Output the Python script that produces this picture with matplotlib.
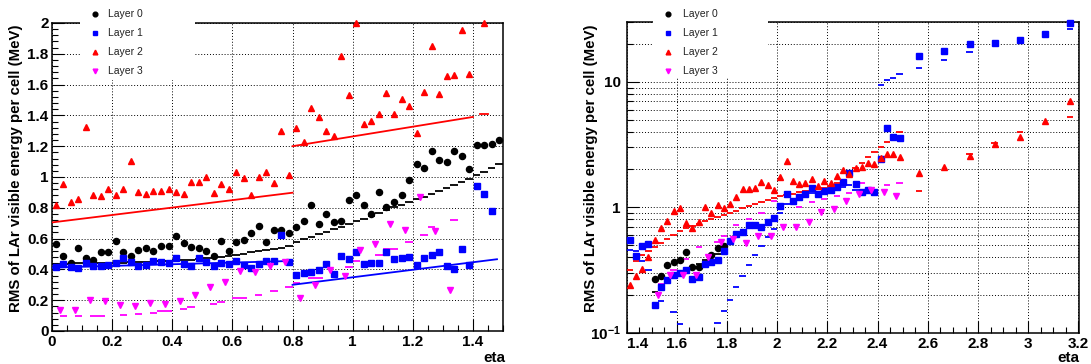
import numpy as np
import matplotlib.pyplot as plt
from matplotlib.ticker import FixedLocator, FixedFormatter, MultipleLocator, LogLocator, NullFormatter

plt.rcParams["font.family"] = ["Liberation Sans", "DejaVu Sans"]
plt.rcParams["mathtext.fontset"] = "custom"
plt.rcParams["mathtext.bf"] = "Liberation Sans:bold"
plt.rcParams["mathtext.rm"] = "Liberation Sans"

nan = np.nan

# ---------------- barrel (left), bins of 0.025 from 0 to 1.5 ----------------
barrel_edges = np.arange(0, 1.5001, 0.025)
barrel_centers = (barrel_edges[:-1] + barrel_edges[1:]) / 2

layer0_barrel = [0.563, 0.487, 0.444, 0.541, 0.472, 0.464, 0.515, 0.511, 0.587, 0.515,
                 0.485, 0.526, 0.537, 0.520, 0.550, 0.550, 0.619, 0.570, 0.544, 0.541,
                 0.522, 0.487, 0.585, 0.522, 0.576, 0.591, 0.634, 0.680, 0.580, 0.656,
                 0.658, 0.634, 0.677, 0.716, 0.818, 0.692, 0.757, 0.706, 0.714, 0.850,
                 0.885, 0.818, 0.759, 0.904, 0.808, 0.837, 0.882, 0.978, 1.082, 1.056,
                 1.168, 1.108, 1.097, 1.168, 1.137, 1.051, 1.205, 1.205, 1.215, 1.239]
layer0_barrel_exp = [0.436, 0.437, 0.438, 0.439, 0.440, 0.440, 0.441, 0.442, 0.443, 0.444,
                     0.445, 0.446, 0.448, 0.450, 0.452, 0.455, 0.458, 0.461, 0.464, 0.468,
                     0.472, 0.476, 0.481, 0.489, 0.495, 0.502, 0.510, 0.518, 0.527, 0.535,
                     0.542, 0.550, 0.580, 0.595, 0.610, 0.627, 0.643, 0.660, 0.675, 0.694,
                     0.712, 0.730, 0.748, 0.766, 0.785, 0.802, 0.820, 0.837, 0.855, 0.872,
                     0.890, 0.910, 0.930, 0.950, 0.970, 0.990, 1.010, 1.034, 1.060, 1.084]
layer1_barrel = [0.418, 0.436, 0.418, 0.412, 0.444, 0.423, 0.423, 0.429, 0.440, 0.476,
                 0.446, 0.423, 0.429, 0.457, 0.446, 0.440, 0.474, 0.436, 0.425, 0.472,
                 0.448, 0.423, 0.444, 0.433, 0.457, 0.427, 0.410, 0.433, 0.455, 0.457,
                 0.624, 0.448, 0.364, 0.375, 0.381, 0.397, 0.436, 0.371, 0.485, 0.468,
                 0.511, 0.436, 0.444, 0.440, 0.511, 0.466, 0.475, 0.481, 0.427, 0.477,
                 0.496, 0.511, 0.425, 0.402, 0.535, 0.427, 0.944, 0.890, 0.776, nan]
layer2_barrel = [0.818, 0.956, 0.839, 0.860, 1.323, 0.883, 0.879, 0.919, 0.885, 0.919,
                 1.101, 0.904, 0.887, 0.908, 0.910, 0.919, 0.900, 0.889, 0.969, 0.969,
                 1.001, 0.894, 0.956, 0.919, 1.034, 0.993, 0.883, 0.997, 1.034, 0.958,
                 1.297, 1.012, 1.315, 1.228, 1.449, 1.390, 1.297, 1.265, 1.786, 1.531,
                 2.000, 1.343, 1.364, 1.408, 1.546, 1.412, 1.505, 1.464, 1.283, 1.552,
                 1.853, 1.537, 1.654, 1.660, 1.952, 1.671, nan, 2.000, nan, nan]
layer3_barrel_eta = np.arange(0.025, 1.5, 0.05)
layer3_barrel = [0.137, 0.135, 0.200, 0.198, 0.170, 0.161, 0.180, 0.176, 0.198, 0.235,
                 0.284, 0.317, 0.388, 0.386, 0.423, 0.450, 0.213, 0.300, 0.397, 0.358,
                 0.525, 0.565, 0.697, 0.658, 0.872, 0.648, 0.267, nan, nan, nan]
layer3_barrel_exp = [nan, 0.100, nan, 0.098, nan, 0.100, 0.100, nan, nan, 0.107,
                     nan, 0.111, nan, 0.119, 0.128, 0.128, nan, 0.141, 0.157, nan,
                     nan, 0.174, 0.189, nan, 0.213, 0.213, nan, 0.237, nan, 0.261,
                     nan, 0.288, 0.310, nan, 0.347, 0.347, nan, 0.380, nan, 0.418,
                     0.457, nan, nan, 0.494, 0.535, 0.535, nan, 0.580, nan, 0.625,
                     0.673, nan, nan, 0.721, nan, nan, nan, nan, nan, nan]
# straight expected curves for layers 1 and 2 (two segments each)
layer1_line_eta = [[0.0, 0.8], [0.8, 1.48]]
layer1_line_val = [[0.412, 0.455], [0.300, 0.466]]
layer2_line_eta = [[0.0, 0.8], [0.8, 1.4], [1.425, 1.45]]
layer2_line_val = [[0.705, 0.898], [1.200, 1.390], [1.408, 1.408]]

# ---------------- endcap (right), bins of 0.025 from 1.4 to 2.5 ----------------
endcap_edges = np.arange(1.4, 2.5001, 0.025)
endcap_centers = (endcap_edges[:-1] + endcap_edges[1:]) / 2

layer0_endcap = [nan, nan, nan, nan, 0.268, 0.284, 0.345, 0.367, 0.376, 0.435,
                 0.335, 0.335, nan, 0.415, 0.470, 0.490] + [nan] * 28
layer0_endcap_exp = [nan, nan, nan, nan, 0.210, 0.226, 0.250, 0.270, 0.290, 0.310,
                     0.330, 0.353, 0.380, 0.400, 0.420, 0.443] + [nan] * 28
layer1_endcap = [0.549, 0.409, 0.492, 0.511, 0.167, 0.229, 0.260, 0.285, 0.298, 0.316,
                 0.268, 0.277, 0.351, 0.365, 0.380, 0.451, 0.539, 0.608, 0.630, 0.723,
                 0.723, 0.697, 0.759, 0.817, 1.030, 1.270, 1.120, 1.200, 1.280, 1.420,
                 1.280, 1.350, 1.370, 1.460, 1.580, 1.870, 1.530, 1.310, 1.370, 1.320,
                 2.430, 4.260, 3.610, 3.550]
layer1_endcap_exp = [0.454, 0.449, 0.373, 0.313, nan, 0.180, nan, 0.146, 0.117, nan,
                     nan, nan, nan, nan, 0.120, 0.148, 0.183, 0.232, 0.284, 0.347,
                     0.414, 0.494, 0.580, 0.670, 0.900, 1.060, 1.120, 1.180, 1.250, 1.300,
                     1.330, 1.360, 1.380, 1.420, 1.450, 1.500, 1.380, 1.300, 1.320, 1.350,
                     9.440, 10.30, 10.80, 11.50]
layer2_endcap = [0.240, 0.284, 0.321, 0.400, 0.549, 0.680, 0.782, 0.935, 0.980, 0.745,
                 0.680, 0.760, 1.010, 0.895, 1.040, 0.980, 1.060, 1.200, 1.390, 1.390,
                 1.430, 1.580, 1.490, 1.370, 1.730, 2.340, 1.630, 1.530, 1.550, 1.680,
                 1.480, 1.630, 1.560, 1.780, 1.980, 1.830, 2.050, 2.100, 2.270, 2.210,
                 2.480, 2.640, 2.650, 2.510]
layer2_endcap_exp = [0.316, 0.369, 0.412, 0.451, 0.480, 0.520, 0.556, 0.598, 0.640, 0.680,
                     0.710, 0.740, 0.770, 0.800, 0.830, 0.860, 0.900, 0.940, 0.980, 1.020,
                     1.060, 1.100, 1.140, 1.180, 1.220, 1.250, 1.280, 1.310, 1.340, 1.370,
                     1.400, 1.430, 1.470, 1.550, 1.650, 1.850, 2.040, 2.240, 2.500, 2.770,
                     3.040, 3.330, 3.650, 3.960]
layer3_endcap_eta = np.arange(1.525, 2.5, 0.05)
layer3_endcap = [0.200, 0.285, 0.285, 0.289, 0.400, 0.523, 0.559, 0.516, 0.590, 0.585,
                 0.700, 0.700, 0.768, 0.915, 0.970, 1.110, 1.270, 1.370, 1.310, 1.220]
layer3_endcap_exp = [nan, nan, nan, nan, nan, 0.245, nan, 0.316, nan, 0.385,
                     nan, 0.477, nan, nan, 0.532, 0.594, nan, 0.722, nan, 0.807,
                     nan, 0.896, nan, 1.110, nan, nan, nan, 1.010, nan, 1.100,
                     nan, 1.160, nan, 1.230, nan, 1.290, nan, 1.570, nan, nan,
                     nan, 1.510, nan, 1.570]

# inner wheel, coarse points
inner_eta = [2.565, 2.665, 2.766, 2.866, 2.968, 3.067, 3.167]
layer1_inner = [16.1, 17.6, 20.0, 20.5, 21.7, 23.9, 29.2]
layer1_inner_exp = [12.8, 15.0, 17.3, nan, nan, nan, 26.2]
layer2_inner = [1.87, 2.11, 2.56, 3.19, 3.65, 4.90, 7.03]
layer2_inner_exp = [1.34, nan, 2.64, 3.27, 3.96, nan, 5.27]

legend_labels = ["Layer 0", "Layer 1", "Layer 2", "Layer 3"]
colors = ["black", "#0000ff", "#ff0000", "#ff00ff"]
markers = ["o", "s", "^", "v"]
msizes = [4.4, 4.7, 4.9, 4.9]

W, H = 1091, 364
TICK_SIZE = 11


def px_axes(fig, x0, x1, y0, y1):
    return fig.add_axes([x0 / W, 1 - y1 / H, (x1 - x0) / W, (y1 - y0) / H])


def draw_dashes(ax, lo, hi, vals, color):
    vals = np.asarray(vals, dtype=float)
    ok = ~np.isnan(vals)
    ax.hlines(vals[ok], np.asarray(lo)[ok], np.asarray(hi)[ok],
              colors=color, lw=1.3, zorder=3)


def draw_points(ax, x, y, i):
    ax.plot(x, y, ls="none", marker=markers[i], ms=msizes[i],
            color=colors[i], mec=colors[i], clip_on=False, zorder=4)


def style_axes(ax):
    for s in ax.spines.values():
        s.set_linewidth(1.1)
    ax.tick_params(which="both", direction="in", top=False, right=False,
                   width=0.8, labelsize=TICK_SIZE)
    ax.tick_params(which="major", length=8.5)
    ax.tick_params(which="minor", length=4.3)
    ax.tick_params(axis="x", pad=3)
    ax.tick_params(axis="y", pad=2.5)
    for lab in ax.get_xticklabels() + ax.get_yticklabels():
        lab.set_fontweight("bold")
    ax.set_axisbelow(True)


def draw_legend(fig, x0, y0, w, h, mx, tx):
    lax = px_axes(fig, x0, x0 + w, y0, y0 + h)
    lax.set_xlim(0, w)
    lax.set_ylim(h, 0)
    lax.set_xticks([])
    lax.set_yticks([])
    for s in lax.spines.values():
        s.set_visible(False)
    lax.patch.set_facecolor("white")
    rows = [14, 33, 52, 71]
    for i, yy in enumerate(rows):
        lax.plot(mx - x0, yy, marker=markers[i], ms=3.4, color=colors[i], ls="none")
        lax.text(tx - x0, yy, legend_labels[i], fontsize=7.5, va="center",
                 ha="left", color="#222222")


fig = plt.figure(figsize=(W / 100, H / 100), dpi=100)

# ---------- left panel ----------
ax1 = px_axes(fig, 52, 503, 23, 331)
ax1.set_xlim(0, 1.5)
ax1.set_ylim(0, 2)
ax1.set_xticks(np.arange(0, 1.41, 0.2))
ax1.set_xticklabels(["0", "0.2", "0.4", "0.6", "0.8", "1", "1.2", "1.4"])
ax1.xaxis.set_minor_locator(MultipleLocator(0.05))
ax1.set_yticks(np.arange(0, 2.01, 0.2))
ax1.set_yticklabels(["0", "0.2", "0.4", "0.6", "0.8", "1", "1.2", "1.4", "1.6", "1.8", "2"])
ax1.yaxis.set_minor_locator(MultipleLocator(0.04))
ax1.grid(True, which="major", color="black", ls=(0, (1, 2)), lw=0.7)

draw_dashes(ax1, barrel_edges[:-1], barrel_edges[1:], layer0_barrel_exp, colors[0])
draw_dashes(ax1, barrel_edges[:-1], barrel_edges[1:], layer3_barrel_exp, colors[3])
for xs, ys in zip(layer1_line_eta, layer1_line_val):
    ax1.plot(xs, ys, color=colors[1], lw=1.3, zorder=3)
for xs, ys in zip(layer2_line_eta, layer2_line_val):
    ax1.plot(xs, ys, color=colors[2], lw=1.3, zorder=3)
draw_points(ax1, barrel_centers, layer0_barrel, 0)
draw_points(ax1, barrel_centers, layer1_barrel, 1)
draw_points(ax1, barrel_centers, layer2_barrel, 2)
draw_points(ax1, layer3_barrel_eta, layer3_barrel, 3)
style_axes(ax1)

# ---------- right panel ----------
ax2 = px_axes(fig, 626.5, 1078.5, 22, 332.5)
ax2.set_yscale("log")
ax2.set_xlim(1.4, 3.2)
ax2.set_ylim(0.1, 30)
ax2.set_xticks(np.arange(1.4, 3.21, 0.2))
ax2.set_xticklabels(["1.4", "1.6", "1.8", "2", "2.2", "2.4", "2.6", "2.8", "3", "3.2"])
ax2.xaxis.set_minor_locator(MultipleLocator(0.05))
ax2.yaxis.set_major_locator(FixedLocator([0.1, 1, 10]))
ax2.yaxis.set_major_formatter(FixedFormatter([r"$\mathbf{10^{-1}}$", "1", "10"]))
ax2.yaxis.set_minor_locator(LogLocator(base=10, subs=np.arange(2, 10)))
ax2.yaxis.set_minor_formatter(NullFormatter())
ax2.grid(True, which="major", color="black", ls=(0, (1, 2)), lw=0.7)
ax2.grid(True, which="minor", axis="y", color="black", ls=(0, (1, 2)), lw=0.7)

draw_dashes(ax2, endcap_edges[:-1], endcap_edges[1:], layer0_endcap_exp, colors[0])
draw_dashes(ax2, endcap_edges[:-1], endcap_edges[1:], layer1_endcap_exp, colors[1])
draw_dashes(ax2, endcap_edges[:-1], endcap_edges[1:], layer2_endcap_exp, colors[2])
draw_dashes(ax2, endcap_edges[:-1], endcap_edges[1:], layer3_endcap_exp, colors[3])
inner_lo = np.array(inner_eta) - 0.0125
inner_hi = np.array(inner_eta) + 0.0125
draw_dashes(ax2, inner_lo, inner_hi, layer1_inner_exp, colors[1])
draw_dashes(ax2, inner_lo, inner_hi, layer2_inner_exp, colors[2])
draw_points(ax2, endcap_centers, layer0_endcap, 0)
draw_points(ax2, endcap_centers, layer1_endcap, 1)
draw_points(ax2, inner_eta, layer1_inner, 1)
draw_points(ax2, endcap_centers, layer2_endcap, 2)
draw_points(ax2, inner_eta, layer2_inner, 2)
draw_points(ax2, layer3_endcap_eta, layer3_endcap, 3)
style_axes(ax2)
ax2.tick_params(axis="y", which="major", pad=4)
ax2.get_xticklabels()[0].set_horizontalalignment("left")

# ---------- titles ----------
ytitle = "RMS of LAr visible energy per cell (MeV)"
fig.text(16 / W, 1 - 24 / H, ytitle, rotation=90, ha="center", va="top",
         fontsize=10.8, fontweight="bold")
fig.text(591 / W, 1 - 24 / H, ytitle, rotation=90, ha="center", va="top",
         fontsize=10.8, fontweight="bold")
fig.text(505 / W, 1 - 358 / H, "eta", ha="right", va="center", fontsize=11, fontweight="bold")
fig.text(1079 / W, 1 - 358 / H, "eta", ha="right", va="center", fontsize=11, fontweight="bold")

draw_legend(fig, 80, 0, 115, 80, 95, 108)
draw_legend(fig, 653, 0, 115, 78, 668, 683)

fig.savefig("out.png", dpi=100)
